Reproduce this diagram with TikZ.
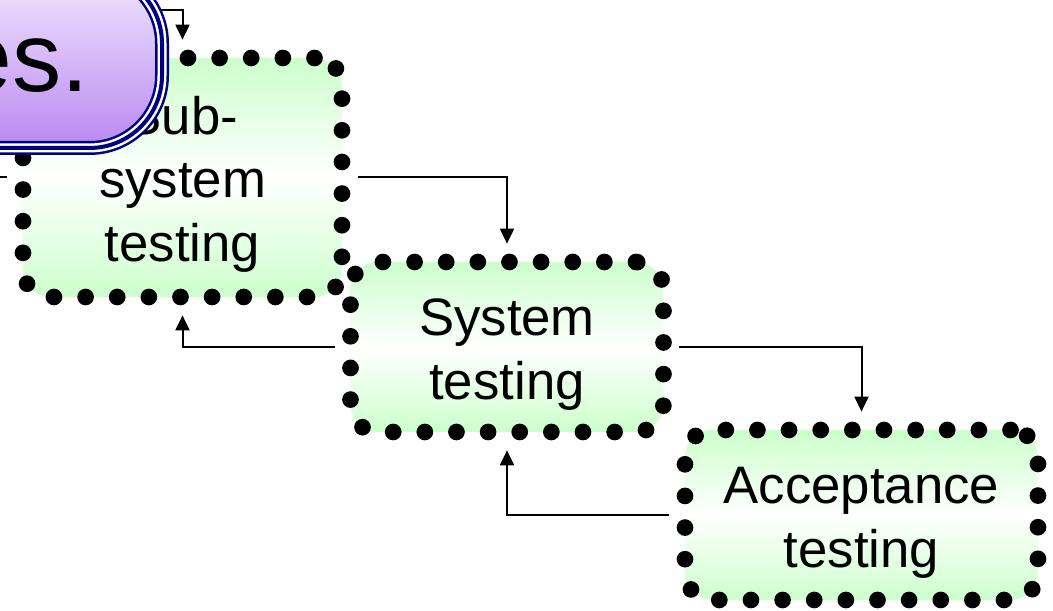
\documentclass[tikz,border=0pt]{standalone}
\usepackage{fontspec}
\setmainfont{Liberation Sans}
\usepackage{xcolor}
\usepackage{tikz}
\usetikzlibrary{shapes,arrows,positioning,calc,arrows.meta}

\definecolor{boxgreen}{RGB}{204,255,204}
\definecolor{navyblue}{RGB}{0,0,128}
\definecolor{lilactop}{RGB}{242,232,255}
\definecolor{lilac}{RGB}{186,136,240}

% taller first line, pushes the block down a little
\newcommand{\topstrut}{\rule{0pt}{29.5pt}}

\tikzset{
    testbox/.style={draw=black, line width=9.5pt, dash pattern=on 0pt off 18pt, line cap=round,
        rounded corners=0.55cm, top color=boxgreen, bottom color=boxgreen, middle color=white,
        inner sep=0pt, align=center, font=\fontsize{30}{36}\selectfont},
    conn/.style={-{Triangle[length=0.3cm,width=0.28cm]}, line width=0.04cm,
        shorten >=0.2cm, shorten <=0.15cm},
    notebox/.style={rounded corners=1.45cm, top color=lilactop, bottom color=lilac,
        draw=navyblue, line width=0.28cm,
        postaction={draw=white, line width=0.18cm},
        postaction={draw=navyblue, line width=0.08cm}}
}

\begin{document}
\begin{tikzpicture}
    \useasboundingbox (0,0) rectangle (21.06,12.22);
    \clip (0,0) rectangle (21.06,12.22);

    % Testing stages
    \node[testbox, minimum width=6.38cm, minimum height=4.78cm] (sub) at (3.65,8.67) {\topstrut Sub-\\system\\testing};
    \node[testbox, minimum width=6.26cm, minimum height=3.4cm] (sys) at (10.14,5.28) {\topstrut System\\testing};
    \node[testbox, minimum width=7.06cm, minimum height=3.4cm] (acc) at (17.23,1.92) {\topstrut Acceptance\\testing};

    % Loose ends
    \coordinate (in) at (2.9,12.02);
    \coordinate (lin) at (0,8.67);

    % Forward and back
    \draw[conn] (in) -| (sub.north);
    \draw[conn, -, shorten >=0pt] (sub.west) -- (lin);
    \draw[conn] (sub.east) -| (sys.north);
    \draw[conn] (sys.west) -| (sub.south);
    \draw[conn] (sys.east) -| (acc.north);
    \draw[conn] (acc.west) -| (sys.south);

    % Callout
    \path[notebox] (-3,9.26) rectangle (3.24,12.8);
    \node[anchor=base east, inner sep=0pt, font=\fontsize{56}{60}\selectfont] (note) at (1.78,10.38) {es.};

\end{tikzpicture}
\end{document}
